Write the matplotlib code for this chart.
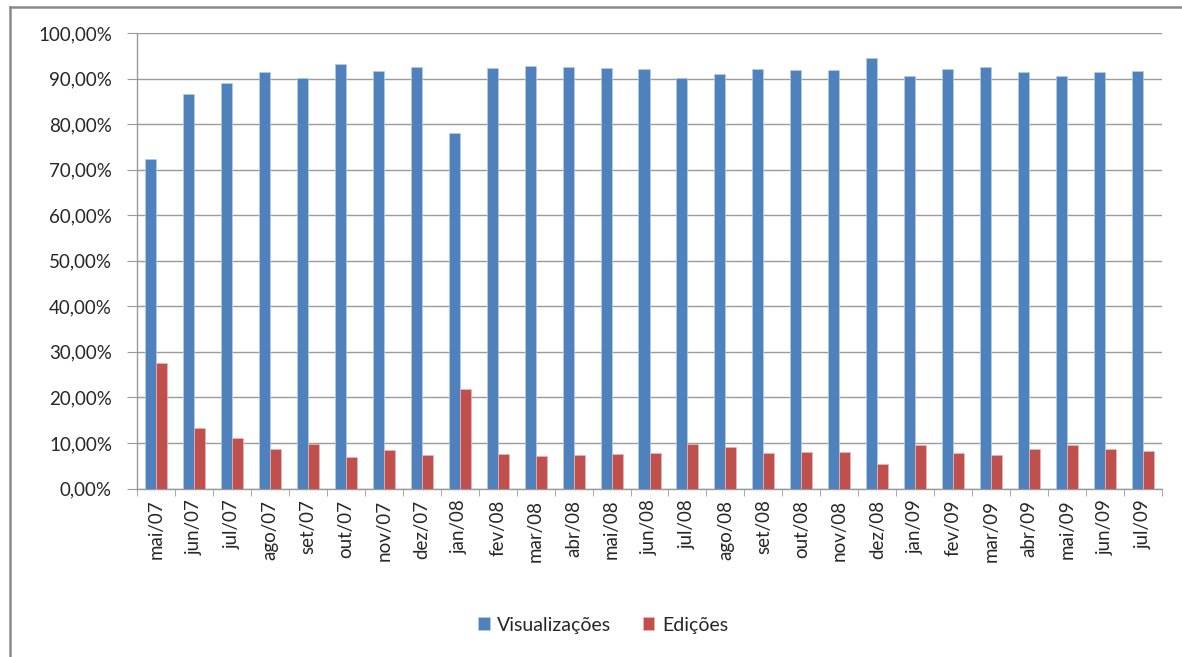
import matplotlib
matplotlib.use("Agg")
import matplotlib.pyplot as plt
import numpy as np
from matplotlib.lines import Line2D
from matplotlib.ticker import FuncFormatter, FixedLocator

months = ["mai/07", "jun/07", "jul/07", "ago/07", "set/07", "out/07", "nov/07", "dez/07",
          "jan/08", "fev/08", "mar/08", "abr/08", "mai/08", "jun/08", "jul/08", "ago/08",
          "set/08", "out/08", "nov/08", "dez/08", "jan/09", "fev/09", "mar/09", "abr/09",
          "mai/09", "jun/09", "jul/09"]
visualizacoes = [72.4, 86.7, 89.0, 91.4, 90.2, 93.1, 91.6, 92.6, 78.1, 92.4, 92.8, 92.6,
                 92.4, 92.1, 90.2, 90.9, 92.1, 91.9, 91.9, 94.6, 90.5, 92.1, 92.6, 91.4,
                 90.5, 91.4, 91.7]
edicoes = [27.6, 13.3, 11.0, 8.6, 9.8, 6.9, 8.4, 7.4, 21.9, 7.6, 7.2, 7.4,
           7.6, 7.9, 9.8, 9.1, 7.9, 8.1, 8.1, 5.4, 9.5, 7.9, 7.4, 8.6,
           9.5, 8.6, 8.3]

plt.rcParams['font.family'] = ['Lato', 'DejaVu Sans']

fig = plt.figure(figsize=(11.82, 6.57), dpi=100)
ax = fig.add_axes([137/1182, 1-488.5/657, (1162-137)/1182, (488.5-33)/657])

x = np.arange(len(months))
w = 0.29
blue = '#4F81BD'
red = '#C0504D'
ax.bar(x - w/2, visualizacoes, w, color=blue, edgecolor='#b7cbe6', linewidth=0.5,
       label='Visualizações', zorder=3)
ax.bar(x + w/2, edicoes, w, color=red, edgecolor='#e6b9b8', linewidth=0.5,
       label='Edições', zorder=3)

ax.set_xlim(-0.5, len(months) - 0.5)
ax.set_ylim(0, 100)
ax.set_yticks(np.arange(0, 101, 10))
ax.yaxis.set_major_formatter(FuncFormatter(lambda v, p: f"{v:.2f}%".replace('.', ',')))
ax.grid(axis='y', color='#9a9a9a', linewidth=1.0, zorder=0)
ax.set_axisbelow(True)

txt = '#262626'
ax.set_xticks(x)
ax.set_xticklabels(months, rotation=90, fontsize=13.5, color=txt)
ax.xaxis.set_minor_locator(FixedLocator(np.arange(-0.5, len(months), 1.0)))
ax.tick_params(axis='x', which='major', length=0, pad=8)
ax.tick_params(axis='x', which='minor', length=5, color='#9a9a9a', direction='out')
ax.tick_params(axis='y', length=7, color='#9a9a9a', direction='out', labelsize=13.5,
               labelcolor=txt, pad=11)

for s in ['top', 'right']:
    ax.spines[s].set_visible(False)
for s in ['left', 'bottom']:
    ax.spines[s].set_color('#9a9a9a')
    ax.spines[s].set_linewidth(1.0)

leg = fig.legend(loc='center', bbox_to_anchor=(603/1182, 1-625/657), ncol=2, frameon=False,
                 fontsize=14, handlelength=0.6, handleheight=0.6, columnspacing=1.6,
                 handletextpad=0.4)
for t in leg.get_texts():
    t.set_color(txt)

# outer chart border (top and left)
fig.add_artist(Line2D([10/1182, 10/1182], [0, 1-7/657], transform=fig.transFigure,
                      color='#8a8a8a', linewidth=1.8))
fig.add_artist(Line2D([10/1182, 1.0], [1-7/657, 1-7/657], transform=fig.transFigure,
                      color='#8a8a8a', linewidth=1.8))

fig.savefig('out.png', dpi=100)
